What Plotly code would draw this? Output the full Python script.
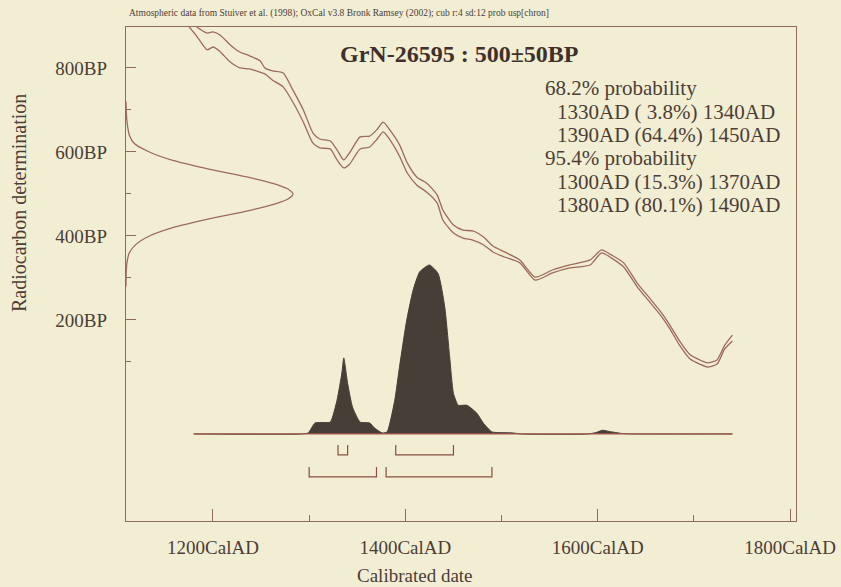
import plotly.graph_objects as go

# ---------------- data ----------------
curve_years = [1171, 1183, 1194, 1200, 1207, 1218, 1228, 1238, 1249, 1254, 1262, 1273,
               1283, 1294, 1304, 1311, 1322, 1329, 1336, 1342, 1353, 1363, 1370, 1377,
               1384, 1394, 1402, 1412, 1422, 1433, 1439, 1450, 1460, 1470, 1481, 1491,
               1503, 1519, 1535, 1553, 1571, 1592, 1604, 1614, 1627, 1641, 1654, 1665,
               1675, 1685, 1696, 1706, 1714, 1724, 1732, 1740]
curve_upper_bp = [930, 898, 883, 886, 879, 855, 838, 829, 817, 800, 793, 788,
                  748, 700, 645, 631, 626, 605, 581, 598, 636, 638, 652, 671,
                  652, 617, 574, 540, 526, 498, 462, 426, 414, 412, 398, 376,
                  362, 343, 302, 319, 331, 343, 367, 355, 336, 288, 252, 221,
                  188, 150, 117, 105, 98, 105, 140, 164]
curve_lower_bp = [910, 876, 843, 850, 840, 814, 800, 798, 790, 786, 771, 755,
                  719, 671, 621, 610, 607, 581, 562, 571, 607, 612, 629, 648,
                  629, 590, 550, 521, 505, 479, 438, 407, 395, 390, 379, 362,
                  350, 336, 295, 312, 324, 331, 360, 348, 326, 279, 243, 212,
                  179, 140, 107, 95, 88, 95, 131, 150]

# calibrated probability distribution (relative)
prob_years = [1180, 1292, 1299, 1306, 1314, 1322, 1329, 1334, 1336, 1340, 1345, 1353,
              1363, 1368, 1376, 1381, 1389, 1394, 1401, 1408, 1415, 1425, 1434, 1441,
              1446, 1450, 1455, 1464, 1474, 1481, 1490, 1500, 1512, 1520, 1590, 1598,
              1605, 1612, 1625, 1635, 1740]
prob_values = [0, 0, 0.006, 0.065, 0.068, 0.07, 0.2, 0.36, 0.45, 0.3, 0.16, 0.07,
               0.065, 0.035, 0.006, 0.012, 0.2, 0.40, 0.66, 0.85, 0.96, 1.0, 0.95, 0.75,
               0.46, 0.24, 0.17, 0.17, 0.125, 0.065, 0.012, 0.008, 0.006, 0, 0, 0.008,
               0.022, 0.015, 0.003, 0, 0]

meas_bp = [720, 680, 660, 640, 620, 600, 580, 560, 540, 530, 520, 512, 500, 488, 480,
           470, 460, 440, 420, 400, 380, 360, 340, 320, 280]
meas_values = [0.0, 0.004, 0.01, 0.02, 0.05, 0.14, 0.28, 0.49, 0.73, 0.835, 0.92, 0.97,
               1.0, 0.97, 0.92, 0.835, 0.73, 0.49, 0.28, 0.14, 0.06, 0.02, 0.007, 0.002, 0.0]

# highest probability ranges
ranges_68 = [(1330, 1340), (1390, 1450)]
ranges_95 = [(1300, 1370), (1380, 1490)]

x_tickvals = [1200, 1400, 1600, 1800]
x_ticktext = ["1200CalAD", "1400CalAD", "1600CalAD", "1800CalAD"]
x_minor = [1300, 1500, 1700]
y_tickvals = [200, 400, 600, 800]
y_ticktext = ["200BP", "400BP", "600BP", "800BP"]
y_minor = [100, 300, 500, 700]

title_text = "<b>GrN-26595 : 500±50BP</b>"
source_text = ("Atmospheric data from Stuiver et al. (1998); OxCal v3.8 Bronk Ramsey (2002); "
               "cub r:4 sd:12 prob usp[chron]")
prob_lines = [
    ("68.2% probability", False),
    ("1330AD (\u00a03.8%) 1340AD", True),
    ("1390AD (64.4%) 1450AD", True),
    ("95.4% probability", False),
    ("1300AD (15.3%) 1370AD", True),
    ("1380AD (80.1%) 1490AD", True),
]

# ---------------- styling ----------------
BG = "#f2eed4"
TXT = "#4d3d35"
FRAME = "#8e6a5e"
CURVE = "#9c6a5c"
FILL = "#483e38"
RED = "#a25a4a"
FONT = "Liberation Serif"

W, H = 841, 587
L, R, T, B = 126, 796, 27, 521
pw, ph = R - L, B - T


def px(x):
    return (x - L) / pw


def py(y):
    return (B - y) / ph


fig = go.Figure()

# calibration curve envelope
for ys in (curve_upper_bp, curve_lower_bp):
    fig.add_trace(go.Scatter(x=curve_years, y=ys, mode="lines",
                             line=dict(color=CURVE, width=1.3, shape="spline", smoothing=0.6),
                             hoverinfo="skip"))

# measurement distribution on the left
fig.add_trace(go.Scatter(x=meas_values, y=meas_bp, xaxis="x2", yaxis="y", mode="lines",
                         line=dict(color=CURVE, width=1.3, shape="spline", smoothing=0.8),
                         hoverinfo="skip"))

# calibrated distribution
fig.add_trace(go.Scatter(x=prob_years, y=prob_values, xaxis="x", yaxis="y2", mode="lines",
                         fill="tozeroy", fillcolor=FILL,
                         line=dict(color=FILL, width=1, shape="spline", smoothing=0.5),
                         hoverinfo="skip"))
# baseline
fig.add_trace(go.Scatter(x=[prob_years[0], prob_years[-1]], y=[0, 0], xaxis="x", yaxis="y2",
                         mode="lines", line=dict(color=RED, width=1.3), hoverinfo="skip"))

# range brackets
def brackets(ranges, top, bot):
    xs, ys = [], []
    for a, b in ranges:
        xs += [a, a, b, b, None]
        ys += [top, bot, bot, top, None]
    return xs, ys


for rng, top, bot in ((ranges_68, -0.065, -0.124), (ranges_95, -0.195, -0.254)):
    bx, by = brackets(rng, top, bot)
    fig.add_trace(go.Scatter(x=bx, y=by, xaxis="x", yaxis="y2", mode="lines",
                             line=dict(color="#8a4f42", width=1.2), hoverinfo="skip"))

tickfont = dict(family=FONT, size=19, color=TXT)

fig.update_layout(
    width=W, height=H,
    margin=dict(l=L, r=W - R, t=T, b=H - B),
    paper_bgcolor=BG, plot_bgcolor=BG,
    showlegend=False,
    xaxis=dict(range=[1109.6, 1806.1], showgrid=False, zeroline=False,
               showline=True, mirror=True, linecolor=FRAME, linewidth=1.2,
               ticks="inside", ticklen=12, tickcolor=FRAME, tickwidth=1,
               tickvals=x_tickvals, ticktext=x_ticktext, tickfont=tickfont,
               ticklabelstandoff=9,
               minor=dict(tickvals=x_minor, ticks="inside", ticklen=6, tickcolor=FRAME),
               automargin=False, fixedrange=True),
    yaxis=dict(range=[-278.6, 897.6], showgrid=False, zeroline=False,
               showline=True, mirror=True, linecolor=FRAME, linewidth=1.2,
               ticks="inside", ticklen=10, tickcolor=FRAME, tickwidth=1,
               tickvals=y_tickvals, ticktext=y_ticktext, tickfont=tickfont,
               ticklabelstandoff=14,
               minor=dict(tickvals=y_minor, ticks="inside", ticklen=5, tickcolor=FRAME),
               automargin=False, fixedrange=True),
    xaxis2=dict(range=[0, 4.012], overlaying="x", visible=False, fixedrange=True),
    yaxis2=dict(range=[-0.515, 2.408], overlaying="y", visible=False, fixedrange=True),
)

ann = []
ann.append(dict(text=title_text, x=px(459), y=py(54), xref="paper", yref="paper",
                xanchor="center", yanchor="middle", showarrow=False,
                font=dict(family=FONT, size=24, color="#3f302a")))
ann.append(dict(text=source_text, x=px(127), y=py(14), xref="paper", yref="paper",
                xanchor="left", yanchor="middle", showarrow=False,
                font=dict(family=FONT, size=9.5, color=TXT)))
line_y = [88, 112, 135, 158, 182, 205]
for (t, indent), yy in zip(prob_lines, line_y):
    ann.append(dict(text=t, x=px(555 if indent else 543), y=py(yy), xref="paper", yref="paper",
                    xanchor="left", yanchor="middle", showarrow=False,
                    font=dict(family=FONT, size=21, color=TXT)))
ann.append(dict(text="Calibrated date", x=px(415), y=py(575), xref="paper", yref="paper",
                xanchor="center", yanchor="middle", showarrow=False,
                font=dict(family=FONT, size=19, color=TXT)))
ann.append(dict(text="Radiocarbon determination", x=px(19), y=py(203), xref="paper", yref="paper",
                xanchor="center", yanchor="middle", showarrow=False, textangle=-90,
                font=dict(family=FONT, size=20, color=TXT)))
fig.update_layout(annotations=ann)

fig.write_html("out.html")
